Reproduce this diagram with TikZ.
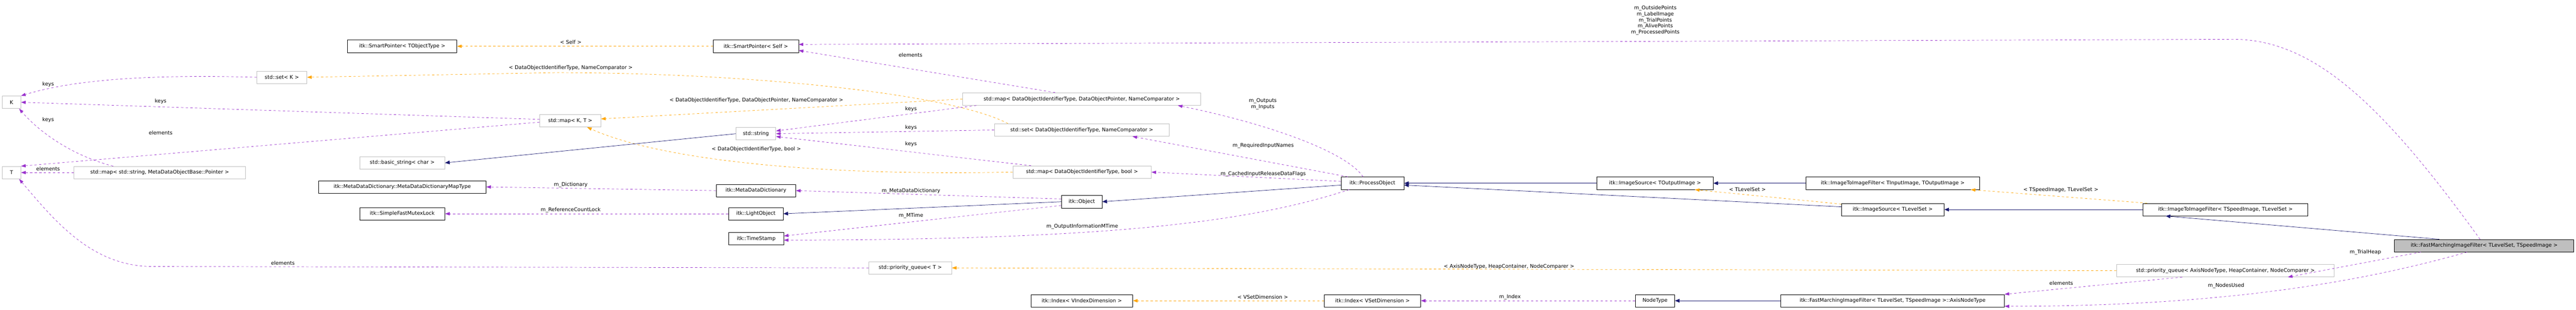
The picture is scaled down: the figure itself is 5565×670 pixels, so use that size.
\documentclass[tikz,border=0pt]{standalone}
\usepackage{fontspec}
\setmainfont{DejaVu Sans}
\usetikzlibrary{arrows.meta,calc}
\definecolor{purp}{HTML}{9A32CD}
\definecolor{orng}{HTML}{FFA500}
\definecolor{navy}{HTML}{191970}
\definecolor{gbd}{HTML}{BFBFBF}
\newcommand\bx[6]{\node[#5, minimum width={(#2-#1)*1pt}] (#4) at ({(#1+#2)/2},#3) {#6};}
\begin{document}
\begin{tikzpicture}[x=1pt,y=-1pt,
  every node/.style={font=\fontsize{11}{13}\selectfont},
  box/.style={draw=black, line width=0.8pt, minimum height=27pt, inner sep=0pt},
  gbox/.style={box, draw=gbd},
  fbox/.style={box, fill=gbd},
  lbl/.style={inner sep=0pt, align=center},
  ln/.style={line width=0.8pt},
  use/.style={ln, draw=purp, dash pattern=on 5pt off 5pt, -{Triangle[length=10pt,width=7pt,fill=purp]}},
  tmpl/.style={ln, draw=orng, dash pattern=on 5pt off 5pt, -{Triangle[length=10pt,width=7pt,fill=orng]}},
  inh/.style={ln, draw=navy, -{Triangle[length=10pt,width=8pt,fill=navy]}}]
\useasboundingbox (0,0) rectangle (5565,670);
\bx{5}{45}{221}{K}{gbox}{K}
\bx{5}{45}{373}{T}{gbox}{T}
\bx{555}{663}{167}{setK}{gbox}{std::set< K >}
\bx{160}{530}{373}{mapSP}{gbox}{std::map< std::string, MetaDataObjectBase::Pointer >}
\bx{751}{987}{100}{SPT}{box}{itk::SmartPointer< TObjectType >}
\bx{1166}{1298}{261}{mapKT}{gbox}{std::map< K, T >}
\bx{777}{961}{352}{bstr}{gbox}{std::basic\_string< char >}
\bx{688}{1050}{404}{mdmt}{box}{itk::MetaDataDictionary::MetaDataDictionaryMapType}
\bx{777}{961}{462}{sfml}{box}{itk::SimpleFastMutexLock}
\bx{1541}{1725}{100}{SPS}{box}{itk::SmartPointer< Self >}
\bx{1590}{1676}{289}{str}{gbox}{std::string}
\bx{1547}{1719}{412}{mdd}{box}{itk::MetaDataDictionary}
\bx{1574}{1692}{462}{lo}{box}{itk::LightObject}
\bx{1574}{1693}{516}{ts}{box}{itk::TimeStamp}
\bx{1877}{2056}{579}{pqT}{gbox}{std::priority\_queue< T >}
\bx{2080}{2594}{214}{mapDOP}{gbox}{std::map< DataObjectIdentifierType, DataObjectPointer, NameComparator >}
\bx{2148}{2526}{281}{setDO}{gbox}{std::set< DataObjectIdentifierType, NameComparator >}
\bx{2188}{2487}{372}{mapDOb}{gbox}{std::map< DataObjectIdentifierType, bool >}
\bx{2293}{2381}{436}{obj}{box}{itk::Object}
\bx{2227}{2447}{650}{idxV}{box}{itk::Index< VIndexDimension >}
\bx{2897}{3033}{396}{po}{box}{itk::ProcessObject}
\bx{2861}{3069}{650}{idxS}{box}{itk::Index< VSetDimension >}
\bx{3450}{3701}{396}{isOut}{box}{itk::ImageSource< TOutputImage >}
\bx{3901}{4277}{396}{iiIO}{box}{itk::ImageToImageFilter< TInputImage, TOutputImage >}
\bx{3978}{4200}{453}{isLS}{box}{itk::ImageSource< TLevelSet >}
\bx{3533}{3618}{650}{ntype}{box}{NodeType}
\bx{3847}{4330}{650}{axis}{box}{itk::FastMarchingImageFilter< TLevelSet, TSpeedImage >::AxisNodeType}
\bx{4629}{4986}{453}{iiSL}{box}{itk::ImageToImageFilter< TSpeedImage, TLevelSet >}
\bx{4573}{5042}{585}{pqA}{gbox}{std::priority\_queue< AxisNodeType, HeapContainer, NodeComparer >}
\bx{5173}{5560}{531}{fm}{fbox}{itk::FastMarchingImageFilter< TLevelSet, TSpeedImage >}
% labels
\node[lbl] (l1) at (104,182) {keys};
\node[lbl] (l2) at (347,219) {keys};
\node[lbl] (l3) at (104,259) {keys};
\node[lbl] (l4) at (347,287) {elements};
\node[lbl] (l5) at (104,365) {elements};
\node[lbl] (l6) at (611,568) {elements};
\node[lbl] (l7) at (1233,91) {< Self >};
\node[lbl] (l8) at (1233,147) {< DataObjectIdentifierType, NameComparator >};
\node[lbl] (l9) at (1634,217) {< DataObjectIdentifierType, DataObjectPointer, NameComparator >};
\node[lbl] (l10) at (1634,322) {< DataObjectIdentifierType, bool >};
\node[lbl] (l11) at (1967,119) {elements};
\node[lbl] (l12) at (1968,236) {keys};
\node[lbl] (l13) at (1968,276) {keys};
\node[lbl] (l14) at (1968,311) {keys};
\node[lbl] (l15) at (1233,399) {m\_Dictionary};
\node[lbl] (l16) at (1233,454) {m\_ReferenceCountLock};
\node[lbl] (l17) at (1968,413) {m\_MetaDataDictionary};
\node[lbl] (l18) at (1968,466) {m\_MTime};
\node[lbl] (l19) at (2338,490) {m\_OutputInformationMTime};
\node[lbl] (l20) at (2728,225) {m\_Outputs\\m\_Inputs};
\node[lbl] (l21) at (2729,315) {m\_RequiredInputNames};
\node[lbl] (l22) at (2729,376) {m\_CachedInputReleaseDataFlags};
\node[lbl] (l23) at (3775,409) {< TLevelSet >};
\node[lbl] (l24) at (4452,410) {< TSpeedImage, TLevelSet >};
\node[lbl] (l25) at (3576,44) {m\_OutsidePoints\\m\_LabelImage\\m\_TrialPoints\\m\_AlivePoints\\m\_ProcessedPoints};
\node[lbl] (l26) at (5110,545) {m\_TrialHeap};
\node[lbl] (l27) at (4809,618) {m\_NodesUsed};
\node[lbl] (l28) at (4453,612) {elements};
\node[lbl] (l29) at (3260,576) {< AxisNodeType, HeapContainer, NodeComparer >};
\node[lbl] (l30) at (3262,642) {m\_Index};
\node[lbl] (l31) at (2728,642) {< VSetDimension >};
% edges
\draw[use] (setK.west) .. controls (300,160) and (150,175) .. (K.north east);
\draw[use] ($(mapKT.west)+(0,-3)$) -- (K.east);
\draw[use] ($(mapKT.west)+(0,3)$) -- (T.north east);
\draw[use] ($(mapSP.north west)+(85,0)$) .. controls (150,335) and (80,280) .. ($(K.south east)+(-4,0)$);
\draw[use] (mapSP.west) -- (T.east);
\draw[use] (pqT.west) -- (330,576) .. controls (200,576) and (120,480) .. ($(T.south east)+(-4,0)$);
\draw[tmpl] (SPS.west) -- (SPT.east);
\draw[tmpl] ($(setDO.north west)+(30,0)$) .. controls (2050,200) and (1600,157) .. (1200,157) -- (setK.east);
\draw[tmpl] (mapDOP.west) -- ($(mapKT.east)+(0,-4)$);
\draw[tmpl] (mapDOb.west) .. controls (1700,382) and (1400,335) .. ($(mapKT.south east)+(-30,0)$);
\draw[inh] (str.west) -- (bstr.east);
\draw[use] ($(mapDOP.north west)+(200,0)$) -- ($(SPS.east)+(0,9)$);
\draw[use] ($(mapDOP.south west)+(30,0)$) -- ($(str.east)+(0,-6)$);
\draw[use] (setDO.west) -- (str.east);
\draw[use] ($(mapDOb.north west)+(40,0)$) -- ($(str.east)+(0,6)$);
\draw[use] (mdd.west) -- (mdmt.east);
\draw[use] (lo.west) -- (sfml.east);
\draw[use] ($(obj.west)+(0,-6)$) -- (mdd.east);
\draw[inh] (obj.west) -- (lo.east);
\draw[use] ($(obj.west)+(0,8)$) -- ($(ts.east)+(0,-6)$);
\draw[use] ($(po.south west)+(18,0)$) .. controls (2700,480) and (2400,518) .. ($(ts.east)+(0,3)$);
\draw[use] ($(po.north west)+(48,0)$) .. controls (2910,330) and (2750,270) .. ($(mapDOP.south east)+(-50,0)$);
\draw[use] ($(po.north west)+(15,0)$) -- ($(setDO.south east)+(-80,0)$);
\draw[use] ($(po.west)+(0,-4)$) -- (mapDOb.east);
\draw[inh] ($(po.west)+(0,4)$) -- (obj.east);
\draw[inh] (isOut.west) -- (po.east);
\draw[inh] ($(isLS.west)+(0,-6)$) -- ($(po.east)+(0,4)$);
\draw[tmpl] ($(isLS.north west)+(0,2)$) -- ($(isOut.south east)+(-40,0)$);
\draw[inh] (iiIO.west) -- (isOut.east);
\draw[tmpl] ($(iiSL.north west)+(10,0)$) -- ($(iiIO.south east)+(-20,0)$);
\draw[inh] (iiSL.west) -- (isLS.east);
\draw[inh] ($(fm.north west)+(97,0)$) -- ($(iiSL.south west)+(50,0)$);
\draw[use] ($(fm.north west)+(185,0)$) .. controls (5150,230) and (5000,85) .. (4825,85) -- ($(SPS.east)+(0,-4)$);
\draw[use] ($(fm.south west)+(57,0)$) -- ($(pqA.south east)+(-100,0)$);
\draw[use] ($(fm.south west)+(157,0)$) .. controls (5100,610) and (4800,662) .. ($(axis.east)+(0,12)$);
\draw[use] ($(pqA.south west)+(142,0)$) -- ($(axis.east)+(0,-14)$);
\draw[tmpl] (pqA.west) -- (pqT.east);
\draw[inh] (axis.west) -- (ntype.east);
\draw[use] (ntype.west) -- (idxS.east);
\draw[tmpl] (idxS.west) -- (idxV.east);
\end{tikzpicture}
\end{document}
